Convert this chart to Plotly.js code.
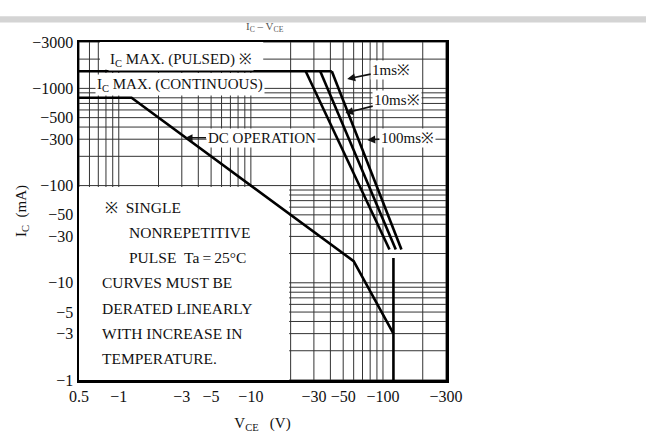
<!DOCTYPE html>
<html>
<head>
<meta charset="utf-8">
<script src="https://cdn.plot.ly/plotly-3.0.1.min.js"></script>
<style>html,body{margin:0;padding:0;background:#fff;}#chart{width:646px;height:434px;}</style>
</head>
<body>
<div id="chart"></div>
<script>
// ---- Data (|VCE| in volts, |IC| in mA; axes are labelled negative, PNP device) ----
const dcV = [0.5, 1.25, 60, 120];
const dcI = [800, 800, 16.7, 3];
const vceoV = [120, 120];
const vceoI = [1, 18];
const pulsedMaxV = [0.5, 41];
const pulsedMaxI = [1500, 1500];
const p100msV = [26, 112];
const p100msI = [1500, 22];
const p10msV = [33.5, 125];
const p10msI = [1500, 22];
const p1msV = [41, 138];
const p1msI = [1500, 22];

// grid values and tick labels
const xGridVals = [0.5,0.6,0.7,0.8,0.9,1,2,3,4,5,6,7,8,9,10,20,30,40,50,60,70,80,90,100,200,300];
const xLabelVals = [0.5, 1, 3, 5, 10, 30, 50, 100, 300];
const xLabelText = ['0.5','\u22121','\u22123','\u22125','\u221210','\u221230','\u221250','\u2212100','\u2212300'];
const yGridVals = [1,2,3,4,5,6,7,8,9,10,20,30,40,50,60,70,80,90,100,200,300,400,500,600,700,800,900,1000,2000,3000];
const yLabelVals = [1, 3, 5, 10, 30, 50, 100, 300, 500, 1000, 3000];
const yLabelText = ['\u22121','\u22123','\u22125','\u221210','\u221230','\u221250','\u2212100','\u2212300','\u2212500','\u22121000','\u22123000'];

const noteLines = ['\u203B\u00a0\u00a0SINGLE', 'NONREPETITIVE', 'PULSE\u00a0\u00a0Ta\u2009=\u200925\u00B0C', 'CURVES MUST BE', 'DERATED LINEARLY', 'WITH INCREASE IN', 'TEMPERATURE.'];
const noteIndent = [0.065, 0.131, 0.131, 0.057, 0.057, 0.057, 0.057];

const serif = 'Liberation Serif, Times New Roman, serif';
const lineStyle = {color: '#000', width: 2.6};
const L = Math.log10;
const xRange = [0.5, 300];
const yRange = [1, 3000];

// printed grid, drawn as line traces so that blank areas can be laid over it
const gx = [], gy = [];
xGridVals.forEach(v => { gx.push(v, v, null); gy.push(yRange[0], yRange[1], null); });
yGridVals.forEach(v => { gx.push(xRange[0], xRange[1], null); gy.push(v, v, null); });
const gridTrace = {x: gx, y: gy, mode: 'lines', line: {color: '#333', width: 1}, hoverinfo: 'skip', connectgaps: false};

// blank (white) areas of the sheet where the grid is not printed
function blankArea(x0, x1, y0, y1) {
  return {x: [x0, x1, x1, x0, x0], y: [y0, y0, y1, y1, y0], mode: 'lines', fill: 'toself',
          fillcolor: '#fff', line: {width: 0, color: 'rgba(0,0,0,0)'}, hoverinfo: 'skip'};
}
const blanks = [
  blankArea(0.5, 19.5, 1, 96.6),
  blankArea(0.721, 12.4, 1567, 3000),
  blankArea(0.721, 19.8, 1138, 1439)
];

const curves = [
  {x: dcV, y: dcI, mode: 'lines', line: lineStyle, hoverinfo: 'skip'},
  {x: vceoV, y: vceoI, mode: 'lines', line: lineStyle, hoverinfo: 'skip'},
  {x: pulsedMaxV, y: pulsedMaxI, mode: 'lines', line: lineStyle, hoverinfo: 'skip'},
  {x: p100msV, y: p100msI, mode: 'lines', line: lineStyle, hoverinfo: 'skip'},
  {x: p10msV, y: p10msI, mode: 'lines', line: lineStyle, hoverinfo: 'skip'},
  {x: p1msV, y: p1msI, mode: 'lines', line: lineStyle, hoverinfo: 'skip'}
];

const traces = [gridTrace].concat(blanks, curves);

const font = {family: serif, size: 15, color: '#111'};
const arrow = {showarrow: true, arrowhead: 2, arrowsize: 1, arrowwidth: 1.6, arrowcolor: '#111'};

const annotations = [
  {xref: 'paper', yref: 'paper', x: 0.278, y: 0.947, xanchor: 'center', yanchor: 'middle', text: 'I<sub>C</sub> MAX. (PULSED) \u203B', showarrow: false, font: font, bgcolor: '#fff'},
  {xref: 'paper', yref: 'paper', x: 0.274, y: 0.872, xanchor: 'center', yanchor: 'middle', text: 'I<sub>C</sub> MAX. (CONTINUOUS)', showarrow: false, font: font, bgcolor: '#fff'},
  Object.assign({xref: 'x', yref: 'y', x: L(3.2), y: L(310), ax: 76, ay: 0, text: 'DC OPERATION', font: font, bgcolor: '#fff'}, arrow, {arrowwidth: 1.4}),
  Object.assign({xref: 'x', yref: 'y', x: L(53.6), y: L(1250), ax: 44, ay: -9, text: '1ms\u203B', font: font, bgcolor: '#fff'}, arrow),
  Object.assign({xref: 'x', yref: 'y', x: L(51.8), y: L(558), ax: 52, ay: -13, text: '10ms\u203B', font: font, bgcolor: '#fff'}, arrow),
  Object.assign({xref: 'x', yref: 'y', x: L(76), y: L(295), ax: 40, ay: -2, text: '100ms\u203B', font: font, bgcolor: '#fff'}, arrow),
  {xref: 'paper', yref: 'paper', x: 0.507, y: 1.07, xanchor: 'center', text: 'I<sub>C</sub> \u2013 V<sub>CE</sub>', showarrow: false, font: {family: serif, size: 11, color: '#555'}}
];
noteLines.forEach((t, i) => {
  annotations.push({xref: 'paper', yref: 'paper', x: noteIndent[i], y: 0.509 - i * 0.074, xanchor: 'left', yanchor: 'middle', text: t, showarrow: false, font: {family: serif, size: 15.5, color: '#111'}});
});

const shapes = [
  // scan band at the top
  {type: 'rect', xref: 'paper', yref: 'paper', x0: -0.216, x1: 1.546, y0: 1.058, y1: 1.076, fillcolor: '#d4d4d4', line: {width: 0}, layer: 'below'}
];

function axisBase(labelVals, labelText, rng) {
  return {
    type: 'log', range: [L(rng[0]), L(rng[1])],
    tickmode: 'array', tickvals: labelVals, ticktext: labelText,
    showgrid: false, zeroline: false,
    showline: true, mirror: true, linecolor: '#000', linewidth: 2.5,
    ticks: '', tickfont: {family: serif, size: 16, color: '#111'}
  };
}

const layout = {
  width: 646, height: 434,
  margin: {l: 79, r: 200, t: 42, b: 54, pad: 0},
  paper_bgcolor: '#fff', plot_bgcolor: '#fff',
  showlegend: false,
  font: font,
  xaxis: Object.assign(axisBase(xLabelVals, xLabelText, xRange), {
    title: {text: 'V<sub>CE</sub>\u00a0\u00a0\u00a0(V)', font: {family: serif, size: 15, color: '#111'}, standoff: 14}
  }),
  yaxis: Object.assign(axisBase(yLabelVals, yLabelText, yRange), {
    title: {text: 'I<sub>C</sub>\u00a0\u00a0(mA)', font: {family: serif, size: 15, color: '#111'}, standoff: 2}
  }),
  annotations: annotations,
  shapes: shapes
};

Plotly.newPlot('chart', traces, layout, {displayModeBar: false, staticPlot: true});
</script>
</body>
</html>
